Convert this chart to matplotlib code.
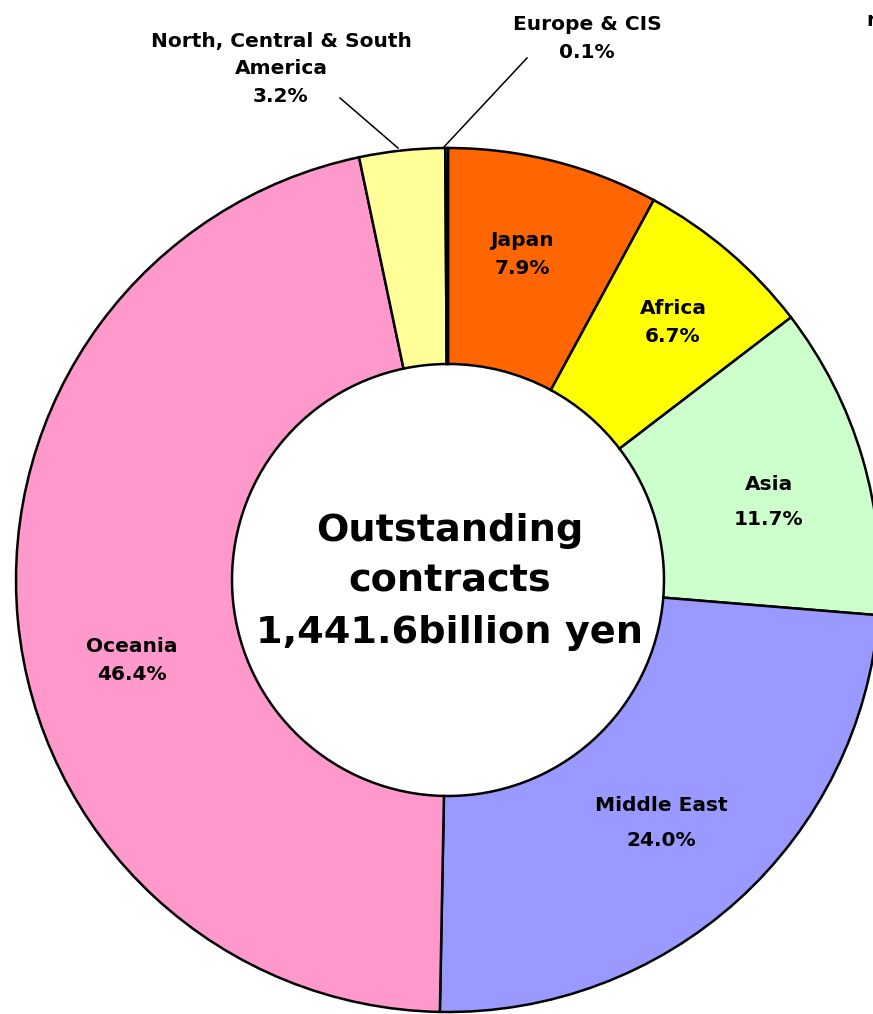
import matplotlib
matplotlib.use("Agg")
import matplotlib.pyplot as plt

# slices go clockwise from 12 o'clock
regions = ["Japan", "Africa", "Asia", "Middle East", "Oceania",
           "North, Central & South\nAmerica", "Europe & CIS"]
shares = [7.9, 6.7, 11.7, 24.0, 46.4, 3.2, 0.1]
colors = ["#FF6600", "#FFFF00", "#CCFFCC", "#9999FF", "#FF99CC", "#FFFF99", "#00FFFF"]
total_text = "Outstanding\ncontracts\n1,441.6billion yen"

W, H = 873, 1014
fig = plt.figure(figsize=(W / 100, H / 100), dpi=100)
ax = fig.add_axes([0, 0, 1, 1])

cx, cy, R = 448, H - 580, 432
ax.pie(shares, colors=colors, startangle=90, counterclock=False,
       center=(cx, cy), radius=R,
       wedgeprops=dict(width=R * 0.5, edgecolor="black", linewidth=1.8))
ax.set_xlim(0, W)
ax.set_ylim(0, H)
ax.set_aspect("equal")
ax.axis("off")

lab = dict(ha="center", va="center", fontsize=14.5, fontweight="bold",
           linespacing=1.6)
# inside labels
inside_pos = {"Japan": (522, 254), "Africa": (673, 322), "Asia": (769, 502),
              "Middle East": (661, 823), "Oceania": (132, 661)}
for name, val in zip(regions, shares):
    if name in inside_pos:
        x, y = inside_pos[name]
        sp = 2.1 if name in ("Asia", "Middle East") else 1.6
        ax.text(x, H - y, f"{name}\n{val:.1f}%", **{**lab, "linespacing": sp})

# outside labels with leader lines
ax.text(281, H - 69, f"{regions[5]}\n{shares[5]:.1f}%", **lab)
ax.plot([340, 398], [H - 98, H - 148], color="black", lw=1.1)
ax.text(587, H - 38, f"{regions[6]}\n{shares[6]:.1f}%", **lab)
ax.plot([527, 443], [H - 58, H - 148], color="black", lw=1.1)

ax.text(cx + 2, H - 582, total_text, ha="center", va="center", fontsize=27.5,
        fontweight="bold", linespacing=1.55)
# partly clipped note at the top-right edge, as in the source
ax.text(866, H - 20, "r", ha="left", va="center", fontsize=14, fontweight="bold")

fig.savefig("out.png", dpi=100)
